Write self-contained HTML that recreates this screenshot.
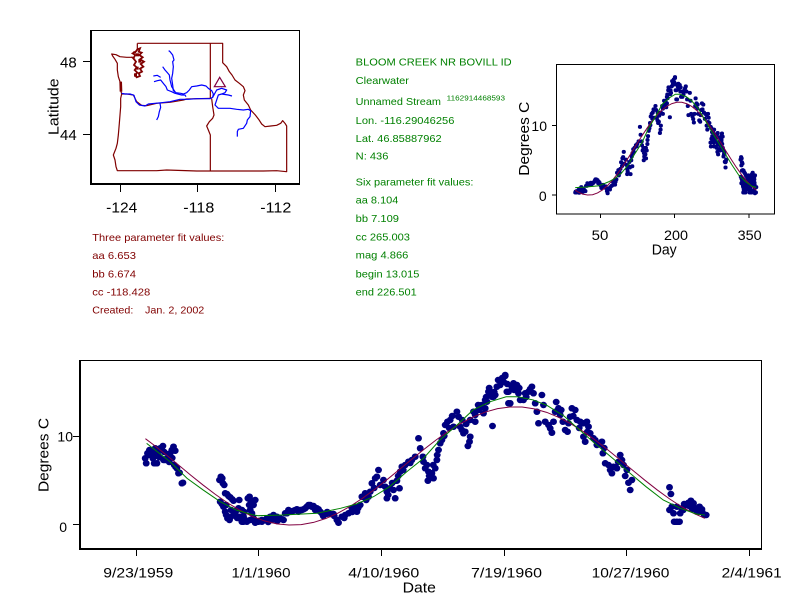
<!DOCTYPE html>
<html>
<head>
<meta charset="utf-8">
<style>
html,body{margin:0;padding:0;background:#fff;}
svg{display:block;}
text{font-family:"Liberation Sans",Arial,sans-serif;}
</style>
</head>
<body>
<svg width="792" height="611" viewBox="0 0 792 611" xmlns="http://www.w3.org/2000/svg">
<rect width="792" height="611" fill="#fff"/>

<!-- ================= MAP PANEL ================= -->
<g fill="#000">
  <rect x="90.5" y="30.5" width="209" height="153" fill="none" stroke="#000" stroke-width="1"/>
  <rect x="90" y="30" width="2" height="155"/>
  <rect x="90" y="183" width="210" height="2"/>
  <rect x="120" y="185" width="1" height="7"/>
  <rect x="197" y="185" width="1" height="7"/>
  <rect x="275" y="185" width="1" height="7"/>
  <rect x="83" y="61" width="7" height="1"/>
  <rect x="83" y="134" width="7" height="1"/>
</g>
<g font-size="15" fill="#000">
  <text x="76.7" y="67.3" text-anchor="end">48</text>
  <text x="76.7" y="140" text-anchor="end">44</text>
  <text x="121.7" y="212.7" text-anchor="middle" textLength="31" lengthAdjust="spacingAndGlyphs">-124</text>
  <text x="198.8" y="212.7" text-anchor="middle" textLength="31" lengthAdjust="spacingAndGlyphs">-118</text>
  <text x="275.8" y="212.7" text-anchor="middle" textLength="31" lengthAdjust="spacingAndGlyphs">-112</text>
  <text transform="translate(58.3,106.7) rotate(-90)" text-anchor="middle" textLength="56.7" lengthAdjust="spacingAndGlyphs">Latitude</text>
</g>
<g transform="translate(30 20) scale(0.333333)">
  <g fill="none" stroke="#800000" stroke-width="1.2" stroke-linejoin="round">
    <path vector-effect="non-scaling-stroke" d="M322,70 L578,70 L578,128 L590,140 L598,155 L606,165 L615,180 L628,190 L640,200 L645,212 L640,225 L643,240 L655,255 L662,270 L676,285 L686,298 L695,312 L705,320 L722,318 L740,316 L752,310 L758,302 L765,310 L770,318 L770,455 L740,452 L700,453 L600,453 L500,453 L410,450 L380,452 L262,452 L258,440 L255,420 L250,405 L258,385 L262,370 L265,345 L268,310 L270,285 L272,260 L272,235 L275,222 L272,210 L270,185 L265,170 L262,150 L262,130 L255,118 L248,108 L245,102 L258,104 L270,110 L290,112 L305,112 L315,118"/>
    <path vector-effect="non-scaling-stroke" d="M275,222 L290,222 L310,225 L320,245 L335,256 L350,257 L380,250 L420,247 L460,240 L470,237 L545,235"/>
    <path vector-effect="non-scaling-stroke" d="M541,70 L541,235 M545,236 L548,260 L552,285 L548,295 L538,305 L530,318 L535,330 L541,345 L541,452"/>
    <path vector-effect="non-scaling-stroke" d="M322,70 L322,92 M310,95 L318,100 M305,110 L312,118"/>
  </g>
  <path fill="none" stroke="#800000" stroke-width="1.8" vector-effect="non-scaling-stroke" d="M322,88 L330,85 L326,95 L335,98 L328,105 L338,112 L330,118 L342,125 L332,132 L340,140 L330,146 L336,155 L326,160 L330,168 L320,172 L315,165 L322,158 L314,150 L320,142 L312,135 L318,125 L310,115 L316,105 L308,100 L318,94 Z"/>
  <g fill="#800000">
    <rect x="318" y="100" width="9" height="9"/>
    <rect x="325" y="118" width="9" height="10"/>
    <rect x="318" y="140" width="8" height="9"/>
    <rect x="312" y="160" width="9" height="10"/>
  </g>
  <path fill="#800000" d="M268,185 L276,185 L277,215 L269,215 Z"/>
  <g fill="none" stroke="#0000ff" stroke-width="1.2" stroke-linejoin="round">
    <path vector-effect="non-scaling-stroke" d="M275,220 L285,222 L300,222 L312,226 L318,245 L328,255 L345,258 L355,252 L375,250 L395,248 L420,245 L450,238 L475,238 L500,236 L520,236 L540,236 L548,232 L550,222 L545,212 L535,205 L528,198 L515,195 L500,198 L485,200 L478,210 L470,218 L460,222 L452,220 L438,218 L430,212 L428,195 L425,175 L428,160 L430,140 L428,125 L432,120 L428,105 L420,95 L416,92"/>
    <path vector-effect="non-scaling-stroke" d="M398,140 L405,150 L412,158 L418,165 L420,180 L425,200 L435,215"/>
    <path vector-effect="non-scaling-stroke" d="M372,185 L382,182 L392,180 L400,190 L408,200 L412,210 L425,215 L435,220 L455,225 L465,225 L468,230"/>
    <path vector-effect="non-scaling-stroke" d="M370,168 L382,166 L392,172"/>
    <path vector-effect="non-scaling-stroke" d="M548,232 L560,210 L575,205 L590,210 L585,218 L575,222 L565,225 L560,240 L555,255 L565,265 L580,265 L600,265 L620,268 L640,270 L655,268 L662,272 L660,290 L652,300 L650,310 L640,325 L625,328 L622,335 L622,350"/>
    <path vector-effect="non-scaling-stroke" d="M575,222 L595,225 L606,228"/>
    <path vector-effect="non-scaling-stroke" d="M390,250 L392,262 L388,275 L385,290 L380,300"/>
  </g>
  <path fill="none" stroke="#800040" stroke-width="1.2" vector-effect="non-scaling-stroke" d="M569,172 L586,200 L553,200 Z"/>
</g>

<!-- ================= THREE PARAM TEXT ================= -->
<g fill="#800000" font-size="10.5">
  <text x="92.3" y="241" textLength="132" lengthAdjust="spacingAndGlyphs">Three parameter fit values:</text>
  <text x="92.3" y="259" textLength="43.7" lengthAdjust="spacingAndGlyphs">aa 6.653</text>
  <text x="92.3" y="277.3" textLength="43.7" lengthAdjust="spacingAndGlyphs">bb 6.674</text>
  <text x="92.3" y="295.7" textLength="58" lengthAdjust="spacingAndGlyphs">cc -118.428</text>
  <text x="92.3" y="313.7" textLength="41" lengthAdjust="spacingAndGlyphs">Created:</text>
  <text x="145" y="313.7" textLength="59.3" lengthAdjust="spacingAndGlyphs">Jan. 2, 2002</text>
</g>

<!-- ================= GREEN INFO TEXT ================= -->
<g fill="#008000" font-size="10.5">
  <text x="355.7" y="65.7" textLength="156" lengthAdjust="spacingAndGlyphs">BLOOM CREEK NR BOVILL ID</text>
  <text x="355.7" y="84" textLength="53.3" lengthAdjust="spacingAndGlyphs">Clearwater</text>
  <text x="355.7" y="105" textLength="85.3" lengthAdjust="spacingAndGlyphs">Unnamed Stream</text>
  <text x="446.7" y="100.7" font-size="7.5" textLength="58.3" lengthAdjust="spacingAndGlyphs">1162914468593</text>
  <text x="355.7" y="124" textLength="98.7" lengthAdjust="spacingAndGlyphs">Lon. -116.29046256</text>
  <text x="355.7" y="142" textLength="86" lengthAdjust="spacingAndGlyphs">Lat. 46.85887962</text>
  <text x="355.7" y="159.7" textLength="32.7" lengthAdjust="spacingAndGlyphs">N: 436</text>
  <text x="355.7" y="185.3" textLength="117.7" lengthAdjust="spacingAndGlyphs">Six parameter fit values:</text>
  <text x="355.7" y="203.7" textLength="42.7" lengthAdjust="spacingAndGlyphs">aa 8.104</text>
  <text x="355.7" y="222" textLength="43.3" lengthAdjust="spacingAndGlyphs">bb 7.109</text>
  <text x="355.7" y="240.7" textLength="54.3" lengthAdjust="spacingAndGlyphs">cc 265.003</text>
  <text x="355.7" y="258.7" textLength="52.7" lengthAdjust="spacingAndGlyphs">mag 4.866</text>
  <text x="355.7" y="277.3" textLength="63.7" lengthAdjust="spacingAndGlyphs">begin 13.015</text>
  <text x="355.7" y="295.7" textLength="61" lengthAdjust="spacingAndGlyphs">end 226.501</text>
</g>

<!-- ================= SMALL CHART ================= -->
<g fill="#000">
  <rect x="556.5" y="64.5" width="218" height="149.5" fill="none" stroke="#000" stroke-width="1"/>
  <rect x="552" y="125" width="4" height="1"/>
  <rect x="552" y="194.5" width="4" height="1"/>
  <rect x="600" y="214" width="1" height="4"/>
  <rect x="674" y="214" width="1" height="4"/>
  <rect x="748.5" y="214" width="1" height="4"/>
</g>
<g font-size="14" fill="#000">
  <text x="547" y="131" text-anchor="end">10</text>
  <text x="546.7" y="201" text-anchor="end">0</text>
  <text x="600" y="240" text-anchor="middle" textLength="16.7" lengthAdjust="spacingAndGlyphs">50</text>
  <text x="676" y="240" text-anchor="middle" textLength="24" lengthAdjust="spacingAndGlyphs">200</text>
  <text x="749.7" y="240" text-anchor="middle" textLength="24" lengthAdjust="spacingAndGlyphs">350</text>
  <text x="664.2" y="254.5" font-size="15" text-anchor="middle" textLength="25" lengthAdjust="spacingAndGlyphs">Day</text>
  <text transform="translate(529,138.7) rotate(-90)" font-size="15" text-anchor="middle" textLength="74" lengthAdjust="spacingAndGlyphs">Degrees C</text>
</g>

<!-- small chart points: 1960 -->
<path fill="none" stroke="#000080" stroke-width="4" stroke-linecap="round" vector-effect="non-scaling-stroke" transform="matrix(0.4042,0,0,0.7858,470.79,-217.5)" d="M258.3 521.7h.4M259.3 520.7h.4M261.7 521.7h.4M265 520h.4M266.7 518.3h.4M270 516.7h.4M273.3 515h.4M276.7 516.7h.4M280 518.3h.4M283.3 520h.4M286.7 513.3h.4M290 511.7h.4M293.3 510.7h.4M296.7 509.3h.4M300 510h.4M303.3 509.3h.4M306.7 506.7h.4M310 505h.4M313.3 506h.4M316.7 508.3h.4M320 511.7h.4M261.7 520h.4M266.7 519.3h.4M271.7 520h.4M276.7 518.3h.4M281.7 519.3h.4M285 513.3h.4M288.3 510h.4M291.7 511.7h.4M295 510h.4M298.3 511.7h.4M301.7 510h.4M305 508.3h.4M308.3 505h.4M311.7 506.7h.4M315 510h.4M318.3 509.3h.4M321.7 513.3h.4M326 514h.4M330 514h.4M333.3 514h.4M336.7 520h.4M338.3 522.7h.4M341.7 516.7h.4M345 515h.4M348.3 513.3h.4M351.7 508.3h.4M355 506.7h.4M356.7 511.7h.4M360 505h.4M361.7 496.7h.4M365 493.3h.4M368.3 496.7h.4M370 491.7h.4M371.7 483.3h.4M375 478.3h.4M376.7 476.7h.4M378.3 470h.4M380 485h.4M383.3 480h.4M385 486.7h.4M386.7 491.7h.4M386.7 498.3h.4M390 488.3h.4M393.3 490h.4M395 498.3h.4M396.7 480.7h.4M399.3 488.3h.4M400 471.7h.4M401.7 466.7h.4M405 465h.4M408.3 461.7h.4M411.7 460h.4M415 456.7h.4M418.3 438.3h.4M420 448.3h.4M422.7 456.7h.4M423.3 461.7h.4M425 468.3h.4M426.7 465h.4M428.3 471.7h.4M427.7 480.7h.4M431.7 473.3h.4M433.3 478.3h.4M435 468.3h.4M436.7 460h.4M438.3 450h.4M440 443.3h.4M441.7 440h.4M443.3 433.3h.4M445 425h.4M447.3 421.7h.4M450 420h.4M453.3 426.7h.4M456.7 411.7h.4M458.3 416.7h.4M460 426.7h.4M461.7 430h.4M463.3 433.3h.4M465 431.7h.4M470 436.7h.4M469.3 441.7h.4M467.7 446h.4M470 420h.4M473.3 411.7h.4M475 421.7h.4M478.3 410h.4M481.7 405h.4M483.3 413.3h.4M485 408.3h.4M486.7 401.7h.4M490 391.7h.4M492.3 426h.4M493.3 396.7h.4M496.7 386.7h.4M500 385h.4M503.3 381.7h.4M505 375h.4M506.7 391.7h.4M508.3 403.3h.4M481.7 406.7h.4M485 400h.4M488.3 391.7h.4M491.7 396.7h.4M495 395h.4M500 383.3h.4M505 376h.4M508.3 391.7h.4M510 403.3h.4M511.7 386.7h.4M513.3 383.3h.4M516.7 385h.4M518.3 393.3h.4M520 400h.4M523.3 400h.4M525 393.3h.4M528.3 391.7h.4M531.7 386.7h.4M533.3 393.3h.4M535 403.3h.4M536.7 411.7h.4M538.3 423.3h.4M541.7 395h.4M543.3 405h.4M545 421.7h.4M548.3 425h.4M550 428.3h.4M551.7 432.7h.4M553.3 421.7h.4M555 411.7h.4M558.3 408.3h.4M560 415h.4M562.7 421.7h.4M565 430h.4M567.3 431.7h.4M568.3 423.3h.4M570 416.7h.4M571.7 408.3h.4M575 410h.4M576.7 420h.4M580 421.7h.4M583.3 423.3h.4M586.7 421.7h.4M588.3 426.7h.4M583.3 436.7h.4M585 441.7h.4M590 433.3h.4M593.3 438.3h.4M596.7 445h.4M599.3 444h.4M601.7 441.7h.4M602.7 453.3h.4M605 463.3h.4M608.3 465h.4M611.7 473.3h.4M613.3 466.7h.4M616.7 468.3h.4M620 455h.4M621.7 460h.4M623.3 465h.4M626.7 470h.4M628.3 482.7h.4M630 490h.4M631.7 480h.4M669.3 487.3h.4M670.7 494h.4M669.3 510h.4M671.7 506.7h.4M673.3 513.3h.4M674 521.7h.4M676.7 521.7h.4M679.3 521.7h.4M676.7 506.7h.4M680 513.3h.4M681.7 508.3h.4M684 504h.4M686.7 505h.4M688.3 502.7h.4M690.7 500.7h.4M693.3 503.3h.4M695 508.3h.4M696.7 511.7h.4M699.3 506.7h.4M701.7 509.3h.4M704 515h.4M706 515h.4M486 397h.4M489 388h.4M494 392h.4M498 380h.4M502 378h.4M507 384h.4M514 390h.4M519 388h.4M526 397h.4M530 389h.4M478 405h.4M475 415h.4M466 424h.4M462 420h.4M452 416h.4M449 428h.4M444 436h.4M437 455h.4M433 465h.4M429 476h.4M410 463h.4M403 470h.4M398 476h.4M392 483h.4M388 495h.4M374 488h.4M366 500h.4M358 508h.4M352 512h.4M344 518h.4M334 516h.4M327 512h.4M323 516h.4M277 521h.4M268 522h.4M556 402h.4M561 410h.4M573 416h.4M579 428h.4M587 432h.4M595 440h.4M604 448h.4M610 470h.4M618 462h.4M625 476h.4M683 510h.4M689 506h.4M692 509h.4M698 512h.4M702 512h.4"/>
<!-- small chart points: 1959 -->
<path fill="none" stroke="#000080" stroke-width="4" stroke-linecap="round" vector-effect="non-scaling-stroke" transform="matrix(0.4042,0,0,0.7858,651.83,-217.5)" d="M145 458.3h.4M146 463.3h.4M147.3 453.3h.4M149.3 450h.4M151.7 451.7h.4M153.3 450h.4M155 448.3h.4M152.7 458.3h.4M154 463.3h.4M156.7 463.3h.4M157.3 453.3h.4M158.3 450h.4M160 448.3h.4M161.7 447.3h.4M162.7 446h.4M159.3 457.3h.4M163.3 460h.4M165 460h.4M166.7 458.3h.4M168.3 456.7h.4M170 453.3h.4M171.7 450h.4M173.3 446.7h.4M175 450.7h.4M174 465h.4M175.3 466.7h.4M176.7 468.3h.4M178.3 473.3h.4M179.3 472.7h.4M181.7 483.3h.4M182.7 482.7h.4M219.3 480h.4M220.7 476.7h.4M222 478.3h.4M222.7 483.3h.4M224 485h.4M225 493.3h.4M226.7 494h.4M228.3 496h.4M230 497.3h.4M232 499.3h.4M233.3 500.7h.4M220 501.7h.4M221.7 504h.4M223.3 506.7h.4M225 511.7h.4M226 515h.4M227.3 518.3h.4M229.3 520h.4M230.7 516.7h.4M233.3 515h.4M235 513.3h.4M236.7 510h.4M238.3 508.3h.4M240 516.7h.4M241.7 521.7h.4M243.3 521.7h.4M245 520h.4M246.7 521.7h.4M247.7 498.3h.4M249.3 496.7h.4M250.7 501.7h.4M252 504h.4M253.3 501.7h.4M255 500h.4M250 510h.4M251.7 513.3h.4M253.3 518.3h.4M255 521.7h.4M257.3 521.7h.4M241.7 510h.4M243.3 516.7h.4M248.3 498.3h.4M251.7 501.7h.4M253.3 505h.4M250 520h.4M255 522.7h.4M150 455h.4M156 456h.4M164 452h.4M169 462h.4M172 458h.4M226 505h.4M231 510h.4M237 518h.4M244 512h.4M249 505h.4M239 500h.4"/>
<!-- small chart curves -->
<path fill="none" stroke="#800040" stroke-width="1" vector-effect="non-scaling-stroke" transform="matrix(0.496,0,0,-6.97,575.2,195)" d="M0 0.696L5 0.46L15 0.125L25 0L35 0.039L45 0.291L55 0.729L65 1.345L75 2.114L85 3.02L95 4.033L105 5.123L115 6.259L125 7.406L135 8.531L145 9.6L155 10.583L165 11.45L175 12.173L185 12.734L195 13.115L205 13.306L215 13.299L225 13.096L235 12.702L245 12.131L255 11.397L265 10.523L275 9.534L285 8.46L295 7.333L305 6.185L315 5.052L325 3.967L335 2.959L345 2.058L355 1.3L365 0.696"/>
<path fill="none" stroke="#008000" stroke-width="1" vector-effect="non-scaling-stroke" transform="matrix(0.496,0,0,-6.97,575.2,195)" d="M0 1.05L20 1.13L48 1.32L67 1.88L80 2.37L94 3.2L107 4.32L121 6.0L134.5 7.5L148 9.58L162 11.27L175 12.97L189 13.9L202 14.46L211 14.46L224 14.1L235 13.5L249 12.3L262 10.7L276 9.0L289 7.5L303 5.83L316 4.32L330 2.82L344 1.88L357 1.24L365 1.1"/>

<!-- ================= BOTTOM CHART ================= -->
<g fill="#000">
  <rect x="80" y="360" width="682" height="1"/>
  <rect x="761" y="360" width="1" height="190"/>
  <rect x="79" y="360" width="2" height="190"/>
  <rect x="79" y="548" width="683" height="2"/>
  <rect x="73" y="524" width="6" height="1"/>
  <rect x="73" y="436" width="6" height="1"/>
  <rect x="136" y="550" width="1" height="6"/>
  <rect x="258" y="550" width="1" height="6"/>
  <rect x="381" y="550" width="1" height="6"/>
  <rect x="504" y="550" width="1" height="6"/>
  <rect x="626" y="550" width="1" height="6"/>
  <rect x="749" y="550" width="1" height="6"/>
</g>
<g font-size="14" fill="#000">
  <text x="73" y="441.7" text-anchor="end">10</text>
  <text x="67" y="532" text-anchor="end">0</text>
  <text x="138.3" y="577.7" text-anchor="middle" textLength="70" lengthAdjust="spacingAndGlyphs">9/23/1959</text>
  <text x="261" y="577.7" text-anchor="middle" textLength="59" lengthAdjust="spacingAndGlyphs">1/1/1960</text>
  <text x="383.8" y="577.7" text-anchor="middle" textLength="71" lengthAdjust="spacingAndGlyphs">4/10/1960</text>
  <text x="506.5" y="577.7" text-anchor="middle" textLength="71" lengthAdjust="spacingAndGlyphs">7/19/1960</text>
  <text x="630.5" y="577.7" text-anchor="middle" textLength="77.7" lengthAdjust="spacingAndGlyphs">10/27/1960</text>
  <text x="751.7" y="577.7" text-anchor="middle" textLength="60" lengthAdjust="spacingAndGlyphs">2/4/1961</text>
  <text x="419.3" y="592.7" font-size="15" text-anchor="middle" textLength="33.3" lengthAdjust="spacingAndGlyphs">Date</text>
  <text transform="translate(48.3,455) rotate(-90)" font-size="15" text-anchor="middle" textLength="74" lengthAdjust="spacingAndGlyphs">Degrees C</text>
</g>

<!-- bottom points -->
<path fill="none" stroke="#000080" stroke-width="6.5" stroke-linecap="round" d="M145 458.3h.4M146 463.3h.4M147.3 453.3h.4M149.3 450h.4M151.7 451.7h.4M153.3 450h.4M155 448.3h.4M152.7 458.3h.4M154 463.3h.4M156.7 463.3h.4M157.3 453.3h.4M158.3 450h.4M160 448.3h.4M161.7 447.3h.4M162.7 446h.4M159.3 457.3h.4M163.3 460h.4M165 460h.4M166.7 458.3h.4M168.3 456.7h.4M170 453.3h.4M171.7 450h.4M173.3 446.7h.4M175 450.7h.4M174 465h.4M175.3 466.7h.4M176.7 468.3h.4M178.3 473.3h.4M179.3 472.7h.4M181.7 483.3h.4M182.7 482.7h.4M219.3 480h.4M220.7 476.7h.4M222 478.3h.4M222.7 483.3h.4M224 485h.4M225 493.3h.4M226.7 494h.4M228.3 496h.4M230 497.3h.4M232 499.3h.4M233.3 500.7h.4M220 501.7h.4M221.7 504h.4M223.3 506.7h.4M225 511.7h.4M226 515h.4M227.3 518.3h.4M229.3 520h.4M230.7 516.7h.4M233.3 515h.4M235 513.3h.4M236.7 510h.4M238.3 508.3h.4M240 516.7h.4M241.7 521.7h.4M243.3 521.7h.4M245 520h.4M246.7 521.7h.4M247.7 498.3h.4M249.3 496.7h.4M250.7 501.7h.4M252 504h.4M253.3 501.7h.4M255 500h.4M250 510h.4M251.7 513.3h.4M253.3 518.3h.4M255 521.7h.4M257.3 521.7h.4M241.7 510h.4M243.3 516.7h.4M248.3 498.3h.4M251.7 501.7h.4M253.3 505h.4M250 520h.4M255 522.7h.4M150 455h.4M156 456h.4M164 452h.4M169 462h.4M172 458h.4M226 505h.4M231 510h.4M237 518h.4M244 512h.4M249 505h.4M239 500h.4
M258.3 521.7h.4M259.3 520.7h.4M261.7 521.7h.4M265 520h.4M266.7 518.3h.4M270 516.7h.4M273.3 515h.4M276.7 516.7h.4M280 518.3h.4M283.3 520h.4M286.7 513.3h.4M290 511.7h.4M293.3 510.7h.4M296.7 509.3h.4M300 510h.4M303.3 509.3h.4M306.7 506.7h.4M310 505h.4M313.3 506h.4M316.7 508.3h.4M320 511.7h.4M261.7 520h.4M266.7 519.3h.4M271.7 520h.4M276.7 518.3h.4M281.7 519.3h.4M285 513.3h.4M288.3 510h.4M291.7 511.7h.4M295 510h.4M298.3 511.7h.4M301.7 510h.4M305 508.3h.4M308.3 505h.4M311.7 506.7h.4M315 510h.4M318.3 509.3h.4M321.7 513.3h.4M326 514h.4M330 514h.4M333.3 514h.4M336.7 520h.4M338.3 522.7h.4M341.7 516.7h.4M345 515h.4M348.3 513.3h.4M351.7 508.3h.4M355 506.7h.4M356.7 511.7h.4M360 505h.4M361.7 496.7h.4M365 493.3h.4M368.3 496.7h.4M370 491.7h.4M371.7 483.3h.4M375 478.3h.4M376.7 476.7h.4M378.3 470h.4M380 485h.4M383.3 480h.4M385 486.7h.4M386.7 491.7h.4M386.7 498.3h.4M390 488.3h.4M393.3 490h.4M395 498.3h.4M396.7 480.7h.4M399.3 488.3h.4M400 471.7h.4M401.7 466.7h.4M405 465h.4M408.3 461.7h.4M411.7 460h.4M415 456.7h.4M418.3 438.3h.4M420 448.3h.4M422.7 456.7h.4M423.3 461.7h.4M425 468.3h.4M426.7 465h.4M428.3 471.7h.4M427.7 480.7h.4M431.7 473.3h.4M433.3 478.3h.4M435 468.3h.4M436.7 460h.4M438.3 450h.4M440 443.3h.4M441.7 440h.4M443.3 433.3h.4M445 425h.4M447.3 421.7h.4M450 420h.4M453.3 426.7h.4M456.7 411.7h.4M458.3 416.7h.4M460 426.7h.4M461.7 430h.4M463.3 433.3h.4M465 431.7h.4M470 436.7h.4M469.3 441.7h.4M467.7 446h.4M470 420h.4M473.3 411.7h.4M475 421.7h.4M478.3 410h.4M481.7 405h.4M483.3 413.3h.4M485 408.3h.4M486.7 401.7h.4M490 391.7h.4M492.3 426h.4M493.3 396.7h.4M496.7 386.7h.4M500 385h.4M503.3 381.7h.4M505 375h.4M506.7 391.7h.4M508.3 403.3h.4M481.7 406.7h.4M485 400h.4M488.3 391.7h.4M491.7 396.7h.4M495 395h.4M500 383.3h.4M505 376h.4M508.3 391.7h.4M510 403.3h.4M511.7 386.7h.4M513.3 383.3h.4M516.7 385h.4M518.3 393.3h.4M520 400h.4M523.3 400h.4M525 393.3h.4M528.3 391.7h.4M531.7 386.7h.4M533.3 393.3h.4M535 403.3h.4M536.7 411.7h.4M538.3 423.3h.4M541.7 395h.4M543.3 405h.4M545 421.7h.4M548.3 425h.4M550 428.3h.4M551.7 432.7h.4M553.3 421.7h.4M555 411.7h.4M558.3 408.3h.4M560 415h.4M562.7 421.7h.4M565 430h.4M567.3 431.7h.4M568.3 423.3h.4M570 416.7h.4M571.7 408.3h.4M575 410h.4M576.7 420h.4M580 421.7h.4M583.3 423.3h.4M586.7 421.7h.4M588.3 426.7h.4M583.3 436.7h.4M585 441.7h.4M590 433.3h.4M593.3 438.3h.4M596.7 445h.4M599.3 444h.4M601.7 441.7h.4M602.7 453.3h.4M605 463.3h.4M608.3 465h.4M611.7 473.3h.4M613.3 466.7h.4M616.7 468.3h.4M620 455h.4M621.7 460h.4M623.3 465h.4M626.7 470h.4M628.3 482.7h.4M630 490h.4M631.7 480h.4M669.3 487.3h.4M670.7 494h.4M669.3 510h.4M671.7 506.7h.4M673.3 513.3h.4M674 521.7h.4M676.7 521.7h.4M679.3 521.7h.4M676.7 506.7h.4M680 513.3h.4M681.7 508.3h.4M684 504h.4M686.7 505h.4M688.3 502.7h.4M690.7 500.7h.4M693.3 503.3h.4M695 508.3h.4M696.7 511.7h.4M699.3 506.7h.4M701.7 509.3h.4M704 515h.4M706 515h.4M486 397h.4M489 388h.4M494 392h.4M498 380h.4M502 378h.4M507 384h.4M514 390h.4M519 388h.4M526 397h.4M530 389h.4M478 405h.4M475 415h.4M466 424h.4M462 420h.4M452 416h.4M449 428h.4M444 436h.4M437 455h.4M433 465h.4M429 476h.4M410 463h.4M403 470h.4M398 476h.4M392 483h.4M388 495h.4M374 488h.4M366 500h.4M358 508h.4M352 512h.4M344 518h.4M334 516h.4M327 512h.4M323 516h.4M277 521h.4M268 522h.4M556 402h.4M561 410h.4M573 416h.4M579 428h.4M587 432h.4M595 440h.4M604 448h.4M610 470h.4M618 462h.4M625 476h.4M683 510h.4M689 506h.4M692 509h.4M698 512h.4M702 512h.4"/>

<!-- bottom curves -->
<path fill="none" stroke="#800040" stroke-width="1" vector-effect="non-scaling-stroke" transform="matrix(1.227,0,0,-8.87,258.3,525)" d="M-92 9.73L-85 9.006L-75 7.901L-65 6.76L-55 5.614L-45 4.501L-35 3.451L-25 2.495L-15 1.662L-5 0.977L5 0.46L15 0.125L25 0L35 0.039L45 0.291L55 0.729L65 1.345L75 2.114L85 3.02L95 4.033L105 5.123L115 6.259L125 7.406L135 8.531L145 9.6L155 10.583L165 11.45L175 12.173L185 12.734L195 13.115L205 13.306L215 13.299L225 13.096L235 12.702L245 12.131L255 11.397L265 10.523L275 9.534L285 8.46L295 7.333L305 6.185L315 5.052L325 3.967L335 2.959L345 2.058L355 1.3L364 0.75"/>
<path fill="none" stroke="#008000" stroke-width="1" vector-effect="non-scaling-stroke" transform="matrix(1.227,0,0,-8.87,258.3,525)" d="M-91 9.2L-72 7.14L-58 5.26L-45 3.95L-31 2.63L-18 1.69L-4 1.13L0 1.05L20 1.13L48 1.32L67 1.88L80 2.37L94 3.2L107 4.32L121 6.0L134.5 7.5L148 9.58L162 11.27L175 12.97L189 13.9L202 14.46L211 14.46L224 14.1L235 13.5L249 12.3L262 10.7L276 9.0L289 7.5L303 5.83L316 4.32L330 2.82L344 1.88L357 1.24L364 1.12"/>
</svg>
</body>
</html>
